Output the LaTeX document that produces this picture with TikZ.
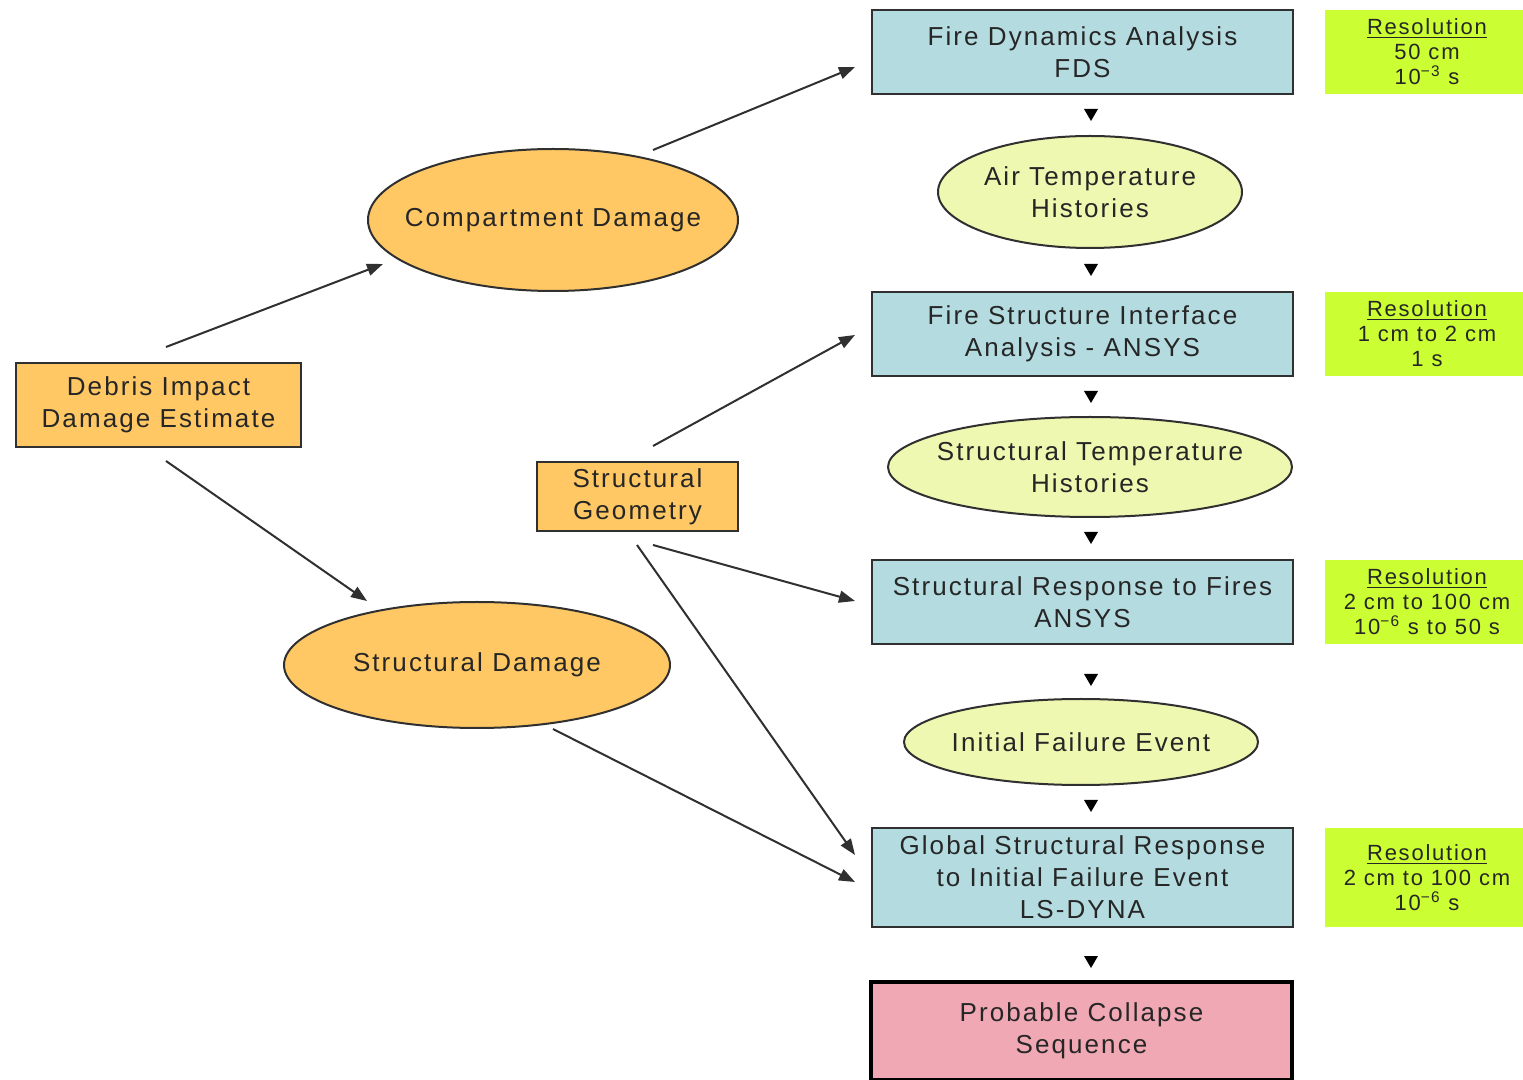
\documentclass[tikz,border=0pt]{standalone}
\usepackage{fontspec}
\setmainfont{Liberation Sans}[LetterSpace=8]
\usetikzlibrary{shapes.geometric,arrows.meta,calc}
\definecolor{boxblue}{HTML}{B4DCE0}
\definecolor{ellyel}{HTML}{EFF8B0}
\definecolor{orng}{HTML}{FFC864}
\definecolor{lime}{HTML}{CCFF33}
\definecolor{pnk}{HTML}{F0A8B4}
\definecolor{edge}{HTML}{303030}
\tikzset{
  every node/.style={font=\fontsize{13}{16}\selectfont, text=black!85, align=center},
  bluebox/.style={draw=edge, line width=1pt, fill=boxblue, minimum width=210.5pt, minimum height=42pt, inner sep=0pt},
  ybell/.style={ellipse, draw=edge, line width=1pt, fill=ellyel, inner xsep=-60pt, inner ysep=-20pt},
  orell/.style={ellipse, draw=edge, line width=1pt, fill=orng, inner xsep=-60pt, inner ysep=-20pt},
  orbox/.style={draw=edge, line width=1pt, fill=orng, inner sep=0pt},
  resbox/.style={fill=lime, minimum width=99pt, minimum height=42pt, inner sep=0pt, font=\fontsize{11}{12.5}\selectfont},
  conn/.style={draw=edge, line width=1pt, -{Triangle[length=8pt,width=6pt]}},
  tip/.style={fill=black}
}
\begin{document}
\begin{tikzpicture}[x=0.5pt,y=-0.5pt]
\useasboundingbox (0,0) rectangle (1523,1080);
\fill[white] (0,0) rectangle (1523,1080);
% center column
\node[bluebox] (fds) at (1082.5,52) {Fire Dynamics Analysis\\FDS};
\node[ybell, minimum width=152pt, minimum height=56pt] (air) at (1090,192) {Air Temperature\\Histories};
\node[bluebox] (fsi) at (1082.5,334) {Fire Structure Interface\\Analysis - ANSYS};
\node[ybell, minimum width=202pt, minimum height=50pt] (stemp) at (1090,467) {Structural Temperature\\Histories};
\node[bluebox] (srf) at (1082.5,602) {Structural Response to Fires\\ANSYS};
\node[ybell, minimum width=177pt, minimum height=43pt] (ife) at (1081,742) {Initial Failure Event};
\node[bluebox, minimum height=49.5pt] (gsr) at (1082.5,877.5) {Global Structural Response\\to Initial Failure Event\\LS-DYNA};
\node[draw=black, line width=1.6pt, fill=pnk, minimum width=210.5pt, minimum height=49pt, inner sep=0pt] (pcs) at (1081.5,1031) {Probable Collapse\\Sequence};
% resolution boxes
\node[resbox] (r1) at (1424,52) {};
\node (r1t) at (1427,52) [font=\fontsize{11}{12.5}\selectfont] {\underline{Resolution}\\50 cm\\10\textsuperscript{−3} s};
\node[resbox] (r2) at (1424,334) {};
\node (r2t) at (1427,334) [font=\fontsize{11}{12.5}\selectfont] {\underline{Resolution}\\1 cm to 2 cm\\1 s};
\node[resbox] (r3) at (1424,602) {};
\node (r3t) at (1427,602) [font=\fontsize{11}{12.5}\selectfont] {\underline{Resolution}\\2 cm to 100 cm\\10\textsuperscript{−6} s to 50 s};
\node[resbox, minimum height=49.5pt] (r4) at (1424,877.5) {};
\node (r4t) at (1427,877.5) [font=\fontsize{11}{12.5}\selectfont] {\underline{Resolution}\\2 cm to 100 cm\\10\textsuperscript{−6} s};
% left side
\node[orbox, minimum width=142.5pt, minimum height=42pt] (dide) at (158.5,405) {Debris Impact\\Damage Estimate};
\node[orell, minimum width=185pt, minimum height=71pt] (cd) at (553,220) {Compartment Damage};
\node[orell, minimum width=193pt, minimum height=63pt] (sd) at (477,665) {Structural Damage};
\node[orbox, minimum width=100.5pt, minimum height=34.5pt] (sg) at (637.5,496.5) {Structural\\Geometry};
% connector end points
\coordinate (a1s) at (166,347); \coordinate (a1e) at (383,264);
\coordinate (a2s) at (166,461); \coordinate (a2e) at (367,601);
\coordinate (a3s) at (653,150); \coordinate (a3e) at (855,67);
\coordinate (a4s) at (653,446); \coordinate (a4e) at (855,335);
\coordinate (a5s) at (653,545); \coordinate (a5e) at (855,601);
\coordinate (a6s) at (637,545); \coordinate (a6e) at (855,855);
\coordinate (a7s) at (553,729); \coordinate (a7e) at (855,882);
\draw[conn] (a1s) -- (a1e);
\draw[conn] (a2s) -- (a2e);
\draw[conn] (a3s) -- (a3e);
\draw[conn] (a4s) -- (a4e);
\draw[conn] (a5s) -- (a5e);
\draw[conn] (a6s) -- (a6e);
\draw[conn] (a7s) -- (a7e);
% small arrowheads between center column items
\foreach \yy in {115,270,397,538,680,806,962}{
  \fill[tip] (1084,\yy-6) -- (1098,\yy-6) -- (1091,\yy+6) -- cycle;
}
\end{tikzpicture}
\end{document}
